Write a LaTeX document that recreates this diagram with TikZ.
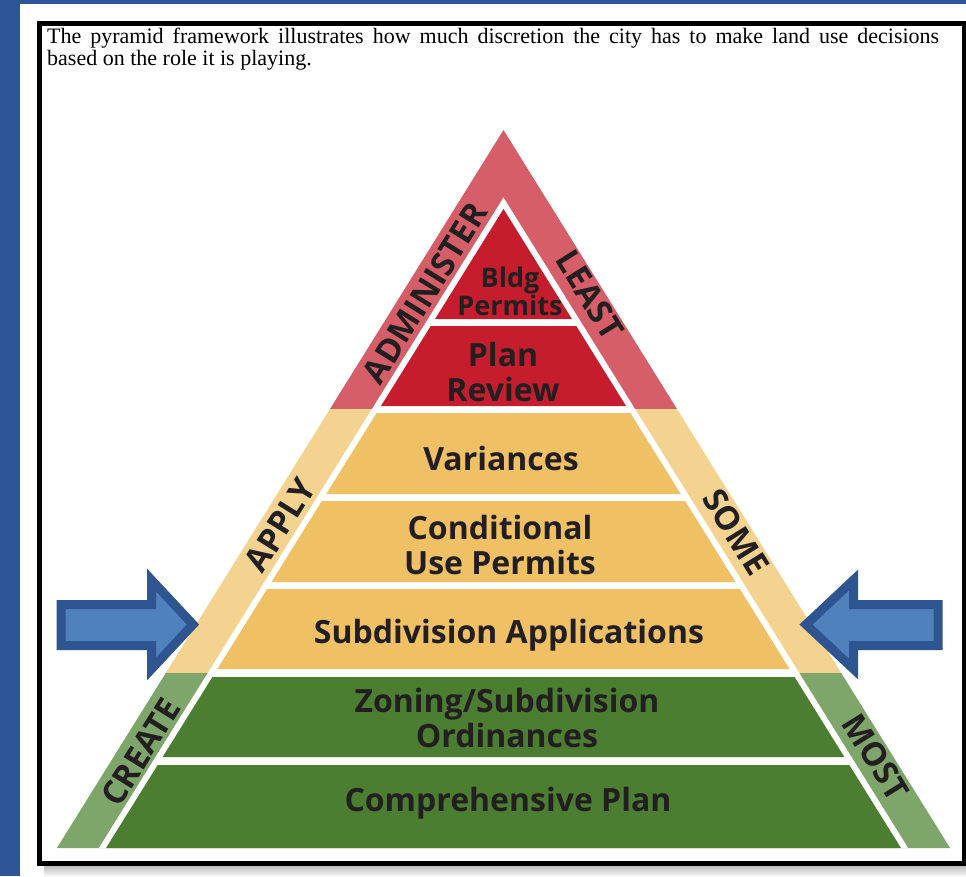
\documentclass[tikz,border=0pt]{standalone}
\usepackage{fontspec}
\setmainfont{Liberation Serif}
\newfontfamily\labelfont{Open Sans}
\tolerance=10000
\definecolor{bgblue}{HTML}{2E5597}
\definecolor{redband}{HTML}{D65E69}
\definecolor{innerred}{HTML}{C51D2E}
\definecolor{tanband}{HTML}{F4D390}
\definecolor{innergold}{HTML}{EFC164}
\definecolor{greenband}{HTML}{7EA66A}
\definecolor{innergreen}{HTML}{4B7E30}
\definecolor{arrowfill}{HTML}{4F81BD}
\definecolor{arrowline}{HTML}{2F5590}
\definecolor{textdark}{HTML}{231F20}
\tikzset{
  lbl/.style={font=\labelfont\bfseries\fontsize{32}{35}\selectfont, text=textdark, align=center, inner sep=0pt},
  smalllbl/.style={lbl, font=\labelfont\bfseries\fontsize{27}{26}\selectfont},
  sidelbl/.style={font=\labelfont\bfseries\fontsize{33}{33}\selectfont, text=textdark, inner sep=0pt},
  bigarrow/.style={fill=arrowfill, draw=arrowline, line width=9pt, line join=miter}
}
\begin{document}
\begin{tikzpicture}[x=1pt,y=-1pt]
\useasboundingbox (0,0) rectangle (966,876);
\fill[white] (0,0) rectangle (966,876);
% background blue strips
\fill[bgblue] (0,0) rectangle (966,4);
\fill[bgblue] (0,0) rectangle (20,876);
% shadow below frame
\shade[top color=gray!55, bottom color=gray!5] (44,865) rectangle (966,876);
% frame
\draw[black, line width=5pt] (39.5,23) rectangle (964.5,863);
% intro text
\node[anchor=north west, inner sep=0pt, text width=892pt, align=justify,
      font=\fontsize{22}{22}\selectfont] (intro) at (47,28)
  {\noindent The pyramid framework illustrates how much discretion the city has to make land use decisions\linebreak based on the role it is playing.};
% outer bands
\fill[redband] (503.5,130) -- (330.0,409) -- (677.0,409) -- cycle;
\fill[tanband] (330.0,409) -- (165.8,673) -- (841.2,673) -- (677.0,409) -- cycle;
\fill[greenband] (165.8,673) -- (56.9,848) -- (950.1,848) -- (841.2,673) -- cycle;
\fill[white] (503.5,197.5) -- (98.9,848) -- (908.1,848) -- cycle;
% inner layers
\fill[innerred] (503.5,209) -- ({503.5-(319-209)*0.622},319) -- ({503.5+(319-209)*0.622},319) -- cycle;
\foreach \ya/\yb/\c in {326/406/innerred, 413/494/innergold, 501/582/innergold, 589/669/innergold, 677/757/innergreen, 765/848/innergreen}
  \fill[\c] ({503.5-(\ya-209)*0.622},\ya) -- ({503.5+(\ya-209)*0.622},\ya) -- ({503.5+(\yb-209)*0.622},\yb) -- ({503.5-(\yb-209)*0.622},\yb) -- cycle;
% layer labels
\node[smalllbl] (bldg) at (510,291) {Bldg\\Permits};
\node[lbl] (plan) at (503,372) {Plan\\Review};
\node[lbl] (var) at (501,458) {Variances};
\node[lbl] (cond) at (500,545) {Conditional\\Use Permits};
\node[lbl] (subd) at (509,635) {Subdivision Applications};
\node[lbl] (zon) at (507,718) {Zoning/Subdivision\\Ordinances};
\node[lbl] (comp) at (508,803) {Comprehensive Plan};
% side labels
\node[sidelbl, rotate=58.1] (admin) at (425,293) {ADMINISTER};
\node[sidelbl, rotate=-58.1] (least) at (590,295) {LEAST};
\node[sidelbl, rotate=58.1] (apply) at (280,525) {APPLY};
\node[sidelbl, rotate=-58.1] (some) at (736,532) {SOME};
\node[sidelbl, rotate=58.1] (create) at (141,752) {CREATE};
\node[sidelbl, rotate=-58.1] (most) at (876,757) {MOST};
% arrows
\draw[bigarrow] (61,604.5) -- (151.5,604.5) -- (151.5,580) -- (193,624.5) -- (151.5,669) -- (151.5,645.5) -- (61,645.5) -- cycle;
\draw[bigarrow] (938,604.5) -- (853.5,604.5) -- (853.5,580) -- (806,624.5) -- (853.5,669) -- (853.5,645.5) -- (938,645.5) -- cycle;
\end{tikzpicture}
\end{document}
